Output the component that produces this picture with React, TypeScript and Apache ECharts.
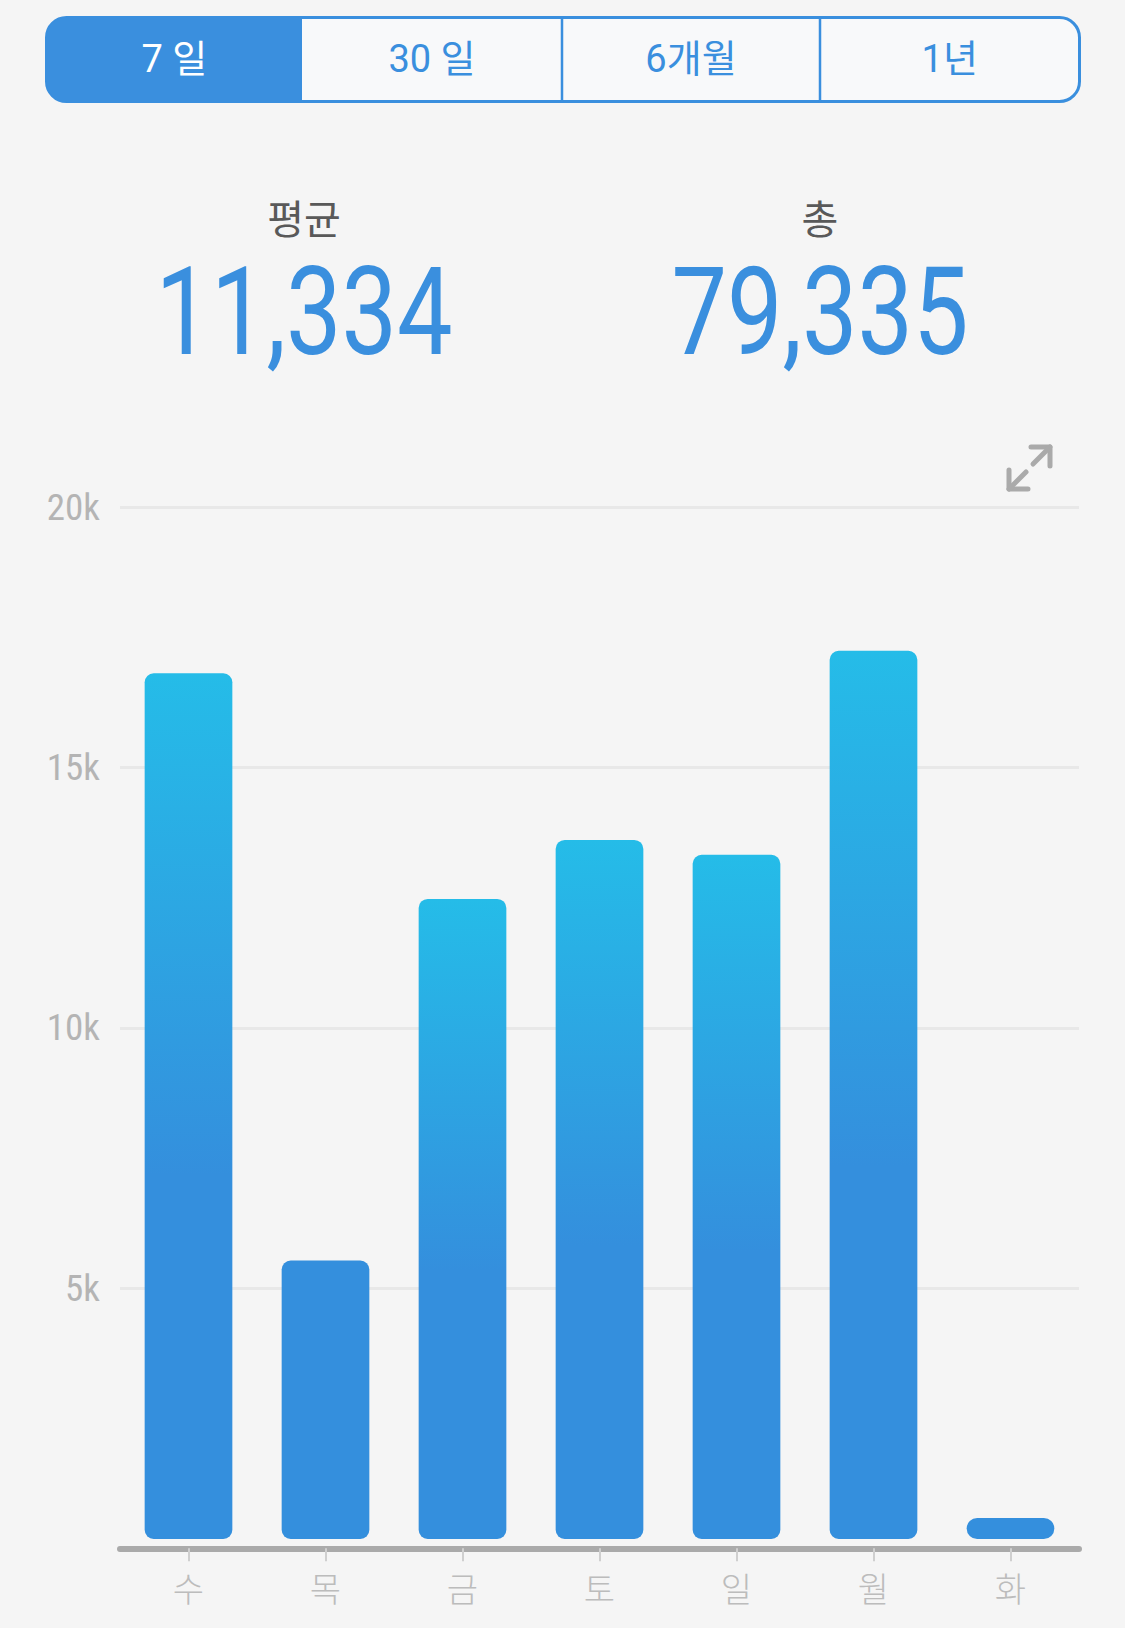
import React, { useEffect, useRef } from "react";
import * as echarts from "echarts";

const days = ["수", "목", "금", "토", "일", "월", "화"];
const steps = [16815, 5528, 12479, 13613, 13325, 17246, 329];
const yTicks = [0, 5000, 10000, 15000, 20000];
const tabs = ["7 일", "30 일", "6개월", "1년"];
const averageLabel = "평균";
const averageValue = "11,334";
const totalLabel = "총";
const totalValue = "79,335";

const BLUE = "#3a8fde";
const BAR_BLUE = [52, 143, 221];
const BAR_CYAN = [37, 188, 232];

function mix(a: number[], b: number[], t: number) {
  const c = a.map((v, i) => Math.round(v + (b[i] - v) * t));
  return `rgb(${c[0]},${c[1]},${c[2]})`;
}

export default function App() {
  const ref = useRef<HTMLDivElement>(null);
  useEffect(() => {
    if (!ref.current) return;
    const chart = echarts.init(ref.current, null, { renderer: "svg" });
    const tabX = [46.5, 302, 562, 820, 1079.5];
    const tabGraphics: any[] = [
      {
        type: "rect",
        shape: { x: 46.5, y: 17.5, width: 1033, height: 84, r: 20 },
        style: { fill: "#f8f9fa", stroke: BLUE, lineWidth: 3 },
      },
      {
        type: "rect",
        shape: { x: 46.5, y: 17.5, width: 255.5, height: 84, r: [20, 0, 0, 20] },
        style: { fill: BLUE },
      },
      ...[2, 3].map((i) => ({
        type: "line",
        shape: { x1: tabX[i], y1: 17.5, x2: tabX[i], y2: 101.5 },
        style: { stroke: BLUE, lineWidth: 2.5 },
      })),
      ...tabs.map((t, i) => ({
        type: "text",
        x: (tabX[i] + tabX[i + 1]) / 2,
        y: 59,
        style: {
          text: t,
          fontSize: 38,
          fontFamily: "Roboto, 'Noto Sans CJK KR'",
          fill: i === 0 ? "#ffffff" : BLUE,
          align: "center",
          verticalAlign: "middle",
        },
      })),
    ];
    const statGraphics: any[] = [
      { label: averageLabel, value: averageValue, x: 304 },
      { label: totalLabel, value: totalValue, x: 820 },
    ].flatMap((s) => [
      {
        type: "text",
        x: s.x,
        y: 217,
        style: {
          text: s.label,
          fontSize: 40,
          fontFamily: "'Noto Sans CJK KR'",
          fill: "#595959",
          align: "center",
          verticalAlign: "middle",
        },
      },
      {
        type: "text",
        x: s.x,
        y: 312,
        scaleX: 0.81,
        style: {
          text: s.value,
          fontSize: 122,
          fontFamily: "Roboto",
          fontWeight: 400,
          fill: BLUE,
          align: "center",
          verticalAlign: "middle",
        },
      },
    ]);
    const iconStyle = {
      stroke: "#aaaaaa",
      lineWidth: 5,
      lineCap: "round",
      lineJoin: "round",
      fill: "none",
    };
    const iconGraphics: any[] = [
      { type: "polyline", shape: { points: [[1031, 447], [1050, 447], [1050, 466]] }, style: iconStyle },
      { type: "line", shape: { x1: 1050, y1: 447, x2: 1033, y2: 464 }, style: iconStyle },
      { type: "polyline", shape: { points: [[1009, 470], [1009, 489], [1028, 489]] }, style: iconStyle },
      { type: "line", shape: { x1: 1009, y1: 489, x2: 1026, y2: 472 }, style: iconStyle },
    ];

    const maxV = yTicks[yTicks.length - 1];
    chart.setOption({
      animation: false,
      backgroundColor: "#f5f5f5",
      graphic: [...tabGraphics, ...statGraphics, ...iconGraphics],
      grid: { left: 120, right: 46, top: 507.5, bottom: 79.7 },
      xAxis: {
        type: "category",
        data: days,
        axisLine: { show: true, lineStyle: { color: "#aaaaaa", width: 6 } },
        axisTick: {
          show: true,
          alignWithLabel: true,
          length: 13,
          lineStyle: { color: "#cfcfcf", width: 2 },
        },
        axisLabel: {
          margin: 22,
          fontSize: 34,
          lineHeight: 34,
          fontWeight: 300,
          fontFamily: "'Noto Sans CJK KR'",
          color: "#bcbcbc",
        },
        z: 3,
      },
      yAxis: {
        type: "value",
        min: 0,
        max: maxV,
        interval: yTicks[1] - yTicks[0],
        axisLine: { show: false },
        axisTick: { show: false },
        splitLine: { lineStyle: { color: "#e8e8e8", width: 3 } },
        axisLabel: {
          margin: 20,
          fontSize: 37,
          fontFamily: "'Liberation Sans Narrow', 'Roboto Condensed', Roboto",
          color: "#b4b4b4",
          formatter: (v: number) => (v === 0 ? "" : v / 1000 + "k"),
        },
      },
      series: [
        {
          type: "custom",
          data: steps.map((v, i) => [i, v]),
          encode: { x: 0, y: 1 },
          renderItem: (params: any, api: any) => {
            const i = api.value(0);
            const v = api.value(1);
            const top = api.coord([i, v]);
            const base = api.coord([i, 0]);
            const band = api.size([1, 0])[0];
            const w = band * 0.64;
            const bottom = base[1] - 9.3;
            let y = top[1];
            const minH = 21;
            if (bottom - y < minH) y = bottom - minH;
            const h = bottom - y;
            const r = h < 30 ? h / 2 : 9;
            const t = Math.max(0, Math.min(1, (v - 6000) / 6000));
            const fill = new echarts.graphic.LinearGradient(0, 0, 0, 1, [
              { offset: 0, color: mix(BAR_BLUE, BAR_CYAN, t) },
              { offset: 0.58, color: mix(BAR_BLUE, BAR_BLUE, 0) },
              { offset: 1, color: mix(BAR_BLUE, BAR_BLUE, 0) },
            ]);
            return {
              type: "rect",
              shape: { x: top[0] - w / 2, y, width: w, height: h, r },
              style: { fill },
            };
          },
          z: 2,
        },
      ],
    });
    return () => chart.dispose();
  }, []);
  return (
    <div
      ref={ref}
      style={{ position: "absolute", left: 0, top: 0, width: 1125, height: 1628, background: "#f5f5f5" }}
    />
  );
}
